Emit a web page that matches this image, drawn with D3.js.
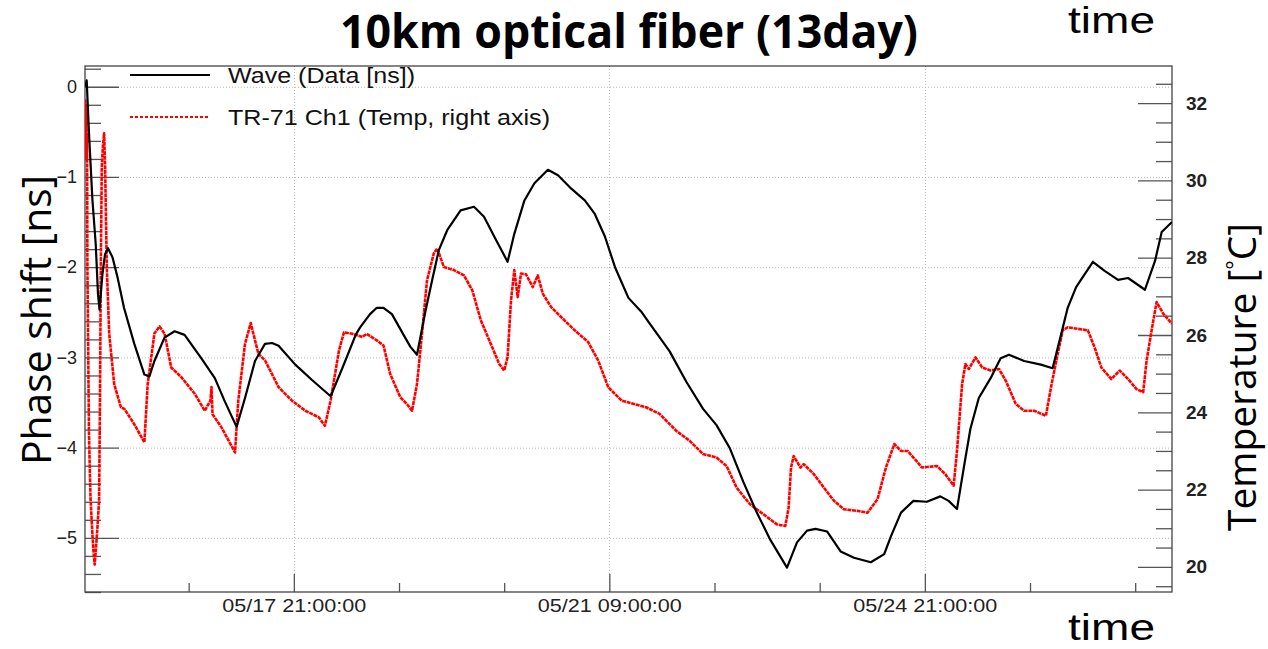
<!DOCTYPE html>
<html><head><meta charset="utf-8">
<script src="https://cdn.jsdelivr.net/npm/d3@7"></script>
<style>body{margin:0;background:#fff;overflow:hidden}</style>
</head><body>
<svg id="c" width="1268" height="649"></svg>
<script>
// ---------------- data ----------------
const titleText = "10km optical fiber (13day)";
const yLeftTitle = "Phase shift [ns]";
const xTitle = "time";
const seriesNames = ["Wave (Data [ns])", "TR-71 Ch1 (Temp, right axis)"];
const baseDate = "2019/05/15 00:00:00";          // hours below are counted from here
const xDomainHours = [13.4, 302.8];
const yLeftDomain = [-5.6, 0.23];
const yRightDomain = [19.35, 32.96];
const majorTimeLabels = ["05/17 21:00:00", "05/21 09:00:00", "05/24 21:00:00"];
const minorTimeHours = [41, 97, 125, 181, 209, 265, 293];
const leftMajorTicks = [0, -1, -2, -3, -4, -5];
const rightMajorTicks = [20, 22, 24, 26, 28, 30, 32];

const waveHours = [13.5,13.85,14.46,15.37,16.25,16.86,17.26,18.06,18.72,19.52,20.72,22.05,23.78,26.53,29.21,30.55,31.88,34.57,37.25,39.92,44.39,47.96,50.65,53.76,56.0,58.66,61.32,63.19,64.94,69.39,73.84,78.79,81.9,85.47,86.6,89.28,91.09,92.87,95.11,98.22,100.01,101.79,104.03,105.79,107.6,109.83,113.4,116.97,119.63,122.35,125.91,127.7,130.39,133.05,136.64,139.33,142.87,146.47,149.13,151.82,154.51,158.08,161.64,163.66,169.02,173.49,177.96,181.53,185.12,188.67,192.26,195.83,200.3,202.96,205.63,207.89,211.0,214.57,218.14,222.61,226.18,227.99,230.65,233.95,237.52,241.12,243.32,245.56,247.34,249.13,251.36,254.51,257.17,259.41,263.43,267.9,271.01,273.25,275.03,277.27,281.74,284.86,288.43,291.11,295.59,298.28,300.06,302.8];
const waveValues = [0.00,0.07,-0.51,-1.25,-1.74,-2.30,-2.47,-2.07,-1.86,-1.79,-1.89,-2.11,-2.45,-2.85,-3.19,-3.21,-3.04,-2.78,-2.71,-2.75,-3.01,-3.23,-3.49,-3.77,-3.45,-3.04,-2.85,-2.84,-2.87,-3.08,-3.25,-3.43,-3.12,-2.75,-2.67,-2.52,-2.45,-2.45,-2.52,-2.75,-2.88,-2.97,-2.49,-2.15,-1.81,-1.59,-1.37,-1.33,-1.44,-1.66,-1.94,-1.63,-1.26,-1.07,-0.92,-0.98,-1.13,-1.26,-1.41,-1.66,-2.00,-2.34,-2.50,-2.62,-2.93,-3.27,-3.57,-3.75,-4.01,-4.38,-4.72,-5.02,-5.33,-5.05,-4.92,-4.90,-4.93,-5.15,-5.22,-5.27,-5.18,-4.98,-4.72,-4.59,-4.60,-4.54,-4.59,-4.68,-4.23,-3.79,-3.45,-3.23,-3.01,-2.97,-3.04,-3.08,-3.12,-2.75,-2.45,-2.22,-1.94,-2.04,-2.14,-2.12,-2.25,-1.93,-1.61,-1.50];

const tempHours = [13.45,13.55,13.62,13.7,13.78,13.86,13.94,14.04,14.46,14.86,15.37,15.66,15.98,16.33,16.70,17.15,17.39,17.61,17.87,18.19,18.49,18.75,19.2,19.84,21.17,22.96,23.86,26.53,29.21,30.09,31.88,33.23,34.57,36.35,39.04,42.61,45.29,46.79,47.08,47.35,49.74,53.34,54.21,56.0,57.52,59.57,61.35,64.94,68.51,72.08,75.65,77.27,78.79,81.02,82.36,84.59,87.26,88.4,91.09,92.87,94.66,97.34,99.13,100.46,101.79,103.12,104.45,106.26,107.17,108.95,111.62,114.31,116.54,118.78,121.44,123.68,125.01,125.91,126.82,127.7,128.6,129.48,130.81,132.62,133.95,135.28,137.52,140.21,143.78,147.35,150.03,152.7,156.29,159.83,162.76,166.36,170.83,174.4,177.94,181.53,184.22,186.88,190.45,194.04,197.61,199.85,200.73,201.37,202.08,203.87,204.75,207.44,210.12,212.81,215.47,219.04,221.73,224.4,226.63,228.87,230.65,232.43,235.12,236.18,240.2,242.44,244.67,245.56,246.92,247.8,248.7,250.49,252.27,254.51,256.75,258.53,261.19,263.43,266.12,269.23,270.59,272.37,273.7,275.03,277.72,280.41,282.19,283.98,286.64,288.88,291.11,293.35,295.13,296.04,297.37,298.7,300.49,302.8];
const tempValues = [32.1,30.9,32.0,30.6,31.8,30.5,31.2,27.77,23.44,21.8,20.84,20.4,20.06,20.5,21.01,21.71,24.30,27.77,30.36,30.9,31.22,30.36,27.77,26.04,24.73,24.13,24.09,23.69,23.22,24.73,26.04,26.22,26.04,25.16,24.91,24.48,24.04,24.3,24.65,23.95,23.61,22.96,24.30,25.77,26.31,25.51,25.34,24.65,24.30,24.04,23.87,23.65,24.30,25.60,26.07,26.03,25.95,26.03,25.86,25.73,24.99,24.39,24.21,24.04,24.73,26.03,27.41,28.11,28.24,27.76,27.68,27.54,27.15,26.38,25.77,25.25,25.08,25.43,26.90,27.68,26.98,27.59,27.57,27.24,27.54,27.07,26.72,26.46,26.12,25.82,25.34,24.65,24.30,24.21,24.13,23.96,23.52,23.26,22.92,22.83,22.61,22.05,21.62,21.36,21.10,21.06,21.53,22.57,22.87,22.57,22.66,22.40,22.05,21.71,21.49,21.45,21.40,21.75,22.57,23.18,23.00,23.00,22.70,22.57,22.61,22.40,22.10,23.00,24.73,25.25,25.12,25.42,25.16,25.08,25.12,24.82,24.22,24.04,24.04,23.91,24.65,25.51,26.12,26.20,26.16,26.12,25.68,25.16,24.86,25.08,24.86,24.60,24.52,25.34,26.12,26.85,26.55,26.29];

// ---------------- layout ----------------
const L = 85, R = 1172, T = 66, B = 592;
const svg = d3.select("#c");
const parseFull = d3.timeParse("%Y/%m/%d %H:%M:%S");
const base = parseFull(baseDate);
const toDate = h => new Date(base.getTime() + h * 3600e3);
const year = baseDate.slice(0, 5);
const majorDates = majorTimeLabels.map(s => parseFull(year + s));

const x = d3.scaleTime().domain(xDomainHours.map(toDate)).range([L, R]);
const yL = d3.scaleLinear().domain(yLeftDomain).range([B, T]);
const yR = d3.scaleLinear().domain(yRightDomain).range([B, T]);

const tickFont = "'Liberation Sans', Arial, Helvetica, sans-serif";
const bigFont = "'Open Sans', 'Noto Sans', sans-serif";

// grid
const grid = svg.append("g").attr("stroke", "#b8b8b8").attr("stroke-width", 1).attr("stroke-dasharray", "1,2");
grid.selectAll("line.h").data(leftMajorTicks).join("line")
  .attr("x1", L).attr("x2", R).attr("y1", d => yL(d) + 0.5).attr("y2", d => yL(d) + 0.5);
grid.selectAll("line.v").data(majorDates).join("line")
  .attr("x1", d => Math.round(x(d)) + 0.5).attr("x2", d => Math.round(x(d)) + 0.5).attr("y1", T).attr("y2", B);

// axes
function styleAxis(g) {
  g.select(".domain").remove();
  g.selectAll(".tick line").attr("stroke", "#555").attr("stroke-width", 1.3);
  g.selectAll("text").attr("fill", "#222").attr("font-family", tickFont);
}
const leftMinor = d3.range(-28, 2).map(i => +(i * 0.2).toFixed(1)).filter(v => leftMajorTicks.indexOf(v) < 0);
svg.append("g").attr("transform", `translate(${L},0)`)
  .call(d3.axisLeft(yL).tickValues(leftMinor).tickSizeInner(-16).tickSizeOuter(0).tickFormat(""))
  .call(styleAxis);
svg.append("g").attr("transform", `translate(${L},0)`)
  .call(d3.axisLeft(yL).tickValues(leftMajorTicks).tickSizeInner(-34).tickSizeOuter(0).tickPadding(8)
    .tickFormat(d => d === 0 ? "0" : "\u2212" + Math.abs(d)))
  .call(styleAxis)
  .selectAll("text").attr("font-size", 18);

const rightMinor = d3.range(39, 66).map(i => i * 0.5).filter(v => rightMajorTicks.indexOf(v) < 0);
svg.append("g").attr("transform", `translate(${R},0)`)
  .call(d3.axisRight(yR).tickValues(rightMinor).tickSizeInner(-16).tickSizeOuter(0).tickFormat(""))
  .call(styleAxis);
svg.append("g").attr("transform", `translate(${R},0)`)
  .call(d3.axisRight(yR).tickValues(rightMajorTicks).tickSizeInner(-34).tickSizeOuter(0).tickPadding(14).tickFormat(d3.format("d")))
  .call(styleAxis)
  .selectAll("text").attr("font-size", 19).attr("font-weight", "bold");

svg.append("g").attr("transform", `translate(0,${B})`)
  .call(d3.axisBottom(x).tickValues(minorTimeHours.map(toDate)).tickSizeInner(-9).tickSizeOuter(0).tickFormat(""))
  .call(styleAxis);
const fmt = d3.timeFormat("%m/%d %H:%M:%S");
svg.append("g").attr("transform", `translate(0,${B})`)
  .call(d3.axisBottom(x).tickValues(majorDates).tickSizeInner(-18).tickSizeOuter(0).tickPadding(7).tickFormat(fmt))
  .call(styleAxis)
  .selectAll("text").attr("font-size", 18).attr("textLength", 144).attr("lengthAdjust", "spacingAndGlyphs");

// frame
svg.append("rect").attr("x", L).attr("y", T).attr("width", R - L).attr("height", B - T)
  .attr("fill", "none").attr("stroke", "#444").attr("stroke-width", 1.3);

// lines
svg.append("clipPath").attr("id", "clip").append("rect").attr("x", L).attr("y", T).attr("width", R - L).attr("height", B - T);
const tempLine = d3.line().x((d, i) => x(toDate(tempHours[i]))).y(d => yR(d));
const waveLine = d3.line().x((d, i) => x(toDate(waveHours[i]))).y(d => yL(d));
svg.append("path").datum(tempValues).attr("clip-path", "url(#clip)")
  .attr("d", tempLine).attr("fill", "none").attr("stroke", "#ff0000").attr("stroke-width", 2.6)
  .attr("stroke-dasharray", "4,0.7").attr("stroke-linejoin", "round");
svg.append("path").datum(waveValues).attr("clip-path", "url(#clip)")
  .attr("d", waveLine).attr("fill", "none").attr("stroke", "#000").attr("stroke-width", 2.2)
  .attr("stroke-linejoin", "round");

// legend
const leg = svg.append("g");
const legendRows = [
  {name: seriesNames[0], color: "#000", dash: null, y: 75, len: 187},
  {name: seriesNames[1], color: "#ff0000", dash: "3,2", y: 117, len: 322}
];
legendRows.forEach(r => {
  leg.append("line").attr("x1", 130).attr("x2", 210).attr("y1", r.y).attr("y2", r.y)
    .attr("stroke", r.color).attr("stroke-width", 2).attr("stroke-dasharray", r.dash);
  leg.append("text").attr("x", 228).attr("y", r.y + 8).text(r.name)
    .attr("font-family", tickFont).attr("font-size", 22).attr("fill", "#111")
    .attr("textLength", r.len).attr("lengthAdjust", "spacingAndGlyphs");
});

// title & axis titles
svg.append("text").attr("x", 629).attr("y", 48).attr("text-anchor", "middle")
  .attr("font-family", bigFont).attr("font-weight", "bold").attr("font-size", 46)
  .attr("textLength", 578).attr("lengthAdjust", "spacingAndGlyphs").text(titleText);
svg.append("text").attr("x", 1068).attr("y", 33).attr("font-family", tickFont).attr("font-size", 36)
  .attr("textLength", 87).attr("lengthAdjust", "spacingAndGlyphs").text(xTitle);
svg.append("text").attr("x", 1068).attr("y", 640).attr("font-family", tickFont).attr("font-size", 36)
  .attr("textLength", 87).attr("lengthAdjust", "spacingAndGlyphs").text(xTitle);
svg.append("text").attr("transform", "translate(51,320) rotate(-90)").attr("text-anchor", "middle")
  .attr("font-family", bigFont).attr("font-size", 40)
  .attr("textLength", 290).attr("lengthAdjust", "spacingAndGlyphs").text(yLeftTitle);
const rt = svg.append("text").attr("transform", "translate(1256,377) rotate(-90)").attr("text-anchor", "middle")
  .attr("font-family", bigFont).attr("font-size", 39);
rt.append("tspan").text("Temperature [");
rt.append("tspan").attr("font-size", 22).attr("dy", -14).text("\u00b0");
rt.append("tspan").attr("dy", 14).text("C]");
</script>
</body></html>
